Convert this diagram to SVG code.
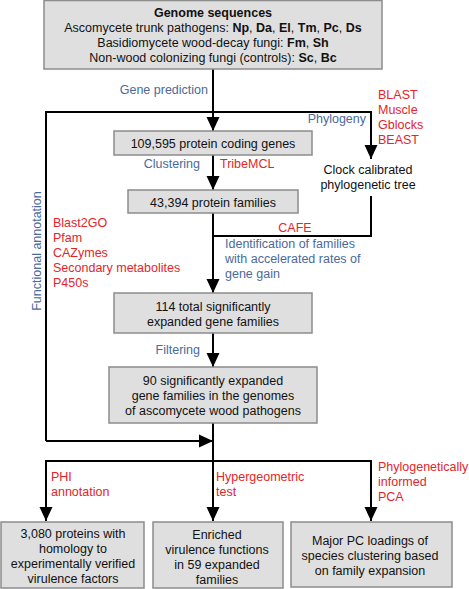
<svg xmlns="http://www.w3.org/2000/svg" width="469" height="589" viewBox="0 0 469 589">
<style>
text{font-family:"Liberation Sans",Arial,sans-serif;font-size:12.5px;fill:#111}
.c{text-anchor:middle}
.b{font-weight:bold}
.blue{fill:#4a6a9c}
.red{fill:#e3242b}
.box{fill:#dfdfdf;stroke:#8c8c8c;stroke-width:1.5}
.ln{fill:none;stroke:#000;stroke-width:2}
</style>
<defs>
<marker id="ah" markerUnits="userSpaceOnUse" markerWidth="14" markerHeight="14" viewBox="0 0 14 14" refX="14" refY="7" orient="auto">
<path d="M0,0.5 L14,7 L0,13.5 z" fill="#000"/>
</marker>
</defs>
<rect width="469" height="589" fill="#fff"/>
<g id="connectors">
<line class="ln" x1="213" y1="69" x2="213" y2="131" marker-end="url(#ah)"/>
<polyline class="ln" points="46,441 46,112 371,112 371,159" marker-end="url(#ah)"/>
<line class="ln" x1="46" y1="441" x2="213" y2="441" marker-end="url(#ah)"/>
<line class="ln" x1="213" y1="155" x2="213" y2="190" marker-end="url(#ah)"/>
<polyline class="ln" points="371,196 371,236 213,236"/>
<line class="ln" x1="213" y1="213" x2="213" y2="293" marker-end="url(#ah)"/>
<line class="ln" x1="213" y1="333" x2="213" y2="367" marker-end="url(#ah)"/>
<line class="ln" x1="213" y1="423" x2="213" y2="521" marker-end="url(#ah)"/>
<polyline class="ln" points="46,521 46,461 371,461 371,521"/>
<line class="ln" x1="46" y1="462" x2="46" y2="521" marker-end="url(#ah)"/>
<line class="ln" x1="371" y1="462" x2="371" y2="521" marker-end="url(#ah)"/>
</g>
<g id="labels">
<text class="blue" x="208" y="94" text-anchor="end">Gene prediction</text>
<text class="blue" x="366" y="123" text-anchor="end">Phylogeny</text>
<text class="red" x="378" y="99">BLAST</text>
<text class="red" x="378" y="114">Muscle</text>
<text class="red" x="378" y="129">Gblocks</text>
<text class="red" x="378" y="144">BEAST</text>
<text class="blue" x="200" y="168" text-anchor="end">Clustering</text>
<text class="red" x="220" y="168">TribeMCL</text>
<text class="red c" x="295" y="232">CAFE</text>
<text class="blue" x="225" y="248">Identification of families</text>
<text class="blue" x="225" y="263">with accelerated rates of</text>
<text class="blue" x="225" y="278">gene gain</text>
<text class="blue" x="200" y="354" text-anchor="end">Filtering</text>
<text class="blue c" transform="translate(41,251) rotate(-90)">Functional annotation</text>
<text class="red" x="53" y="227">Blast2GO</text>
<text class="red" x="53" y="242">Pfam</text>
<text class="red" x="53" y="257">CAZymes</text>
<text class="red" x="53" y="272">Secondary metabolites</text>
<text class="red" x="53" y="287">P450s</text>
<text class="red" x="51" y="481">PHI</text>
<text class="red" x="51" y="496">annotation</text>
<text class="red" x="216" y="481">Hypergeometric</text>
<text class="red" x="216" y="496">test</text>
<text class="red" x="378" y="471">Phylogenetically</text>
<text class="red" x="378" y="486">informed</text>
<text class="red" x="378" y="501">PCA</text>
</g>
<g id="genome">
<rect class="box" x="44" y="0.5" width="338" height="68.5"/>
<text class="c b" x="213" y="17">Genome sequences</text>
<text class="c" x="213" y="32">Ascomycete trunk pathogens: <tspan class="b">Np</tspan>, <tspan class="b">Da</tspan>, <tspan class="b">El</tspan>, <tspan class="b">Tm</tspan>, <tspan class="b">Pc</tspan>, <tspan class="b">Ds</tspan></text>
<text class="c" x="213" y="47">Basidiomycete wood-decay fungi: <tspan class="b">Fm</tspan>, <tspan class="b">Sh</tspan></text>
<text class="c" x="213" y="62">Non-wood colonizing fungi (controls):  <tspan class="b">Sc</tspan>, <tspan class="b">Bc</tspan></text>
</g>
<g id="proteins">
<rect class="box" x="114" y="131" width="198" height="24"/>
<text class="c" x="213" y="148">109,595 protein coding genes</text>
</g>
<g id="tree">
<text class="c" x="368" y="174">Clock calibrated</text>
<text class="c" x="368" y="189">phylogenetic tree</text>
</g>
<g id="families">
<rect class="box" x="128" y="190" width="170" height="23"/>
<text class="c" x="213" y="207">43,394 protein families</text>
</g>
<g id="expanded114">
<rect class="box" x="114" y="293" width="198" height="40"/>
<text class="c" x="213" y="311">114 total significantly</text>
<text class="c" x="213" y="326">expanded gene families</text>
</g>
<g id="expanded90">
<rect class="box" x="109" y="367" width="208" height="56"/>
<text class="c" x="213" y="385">90 significantly expanded</text>
<text class="c" x="213" y="400">gene families in the genomes</text>
<text class="c" x="213" y="415">of ascomycete wood pathogens</text>
</g>
<g id="phi">
<rect class="box" x="1" y="522" width="143" height="66"/>
<text class="c" x="73" y="538">3,080 proteins with</text>
<text class="c" x="73" y="553">homology to</text>
<text class="c" x="73" y="568">experimentally verified</text>
<text class="c" x="73" y="583">virulence factors</text>
</g>
<g id="enriched">
<rect class="box" x="153" y="522" width="130" height="66"/>
<text class="c" x="217" y="539">Enriched</text>
<text class="c" x="217" y="554">virulence functions</text>
<text class="c" x="217" y="569">in 59 expanded</text>
<text class="c" x="217" y="584">families</text>
</g>
<g id="pca">
<rect class="box" x="291" y="522" width="161" height="65"/>
<text class="c" x="370" y="545">Major PC loadings of</text>
<text class="c" x="370" y="560">species clustering based</text>
<text class="c" x="370" y="575">on family expansion</text>
</g>
</svg>
